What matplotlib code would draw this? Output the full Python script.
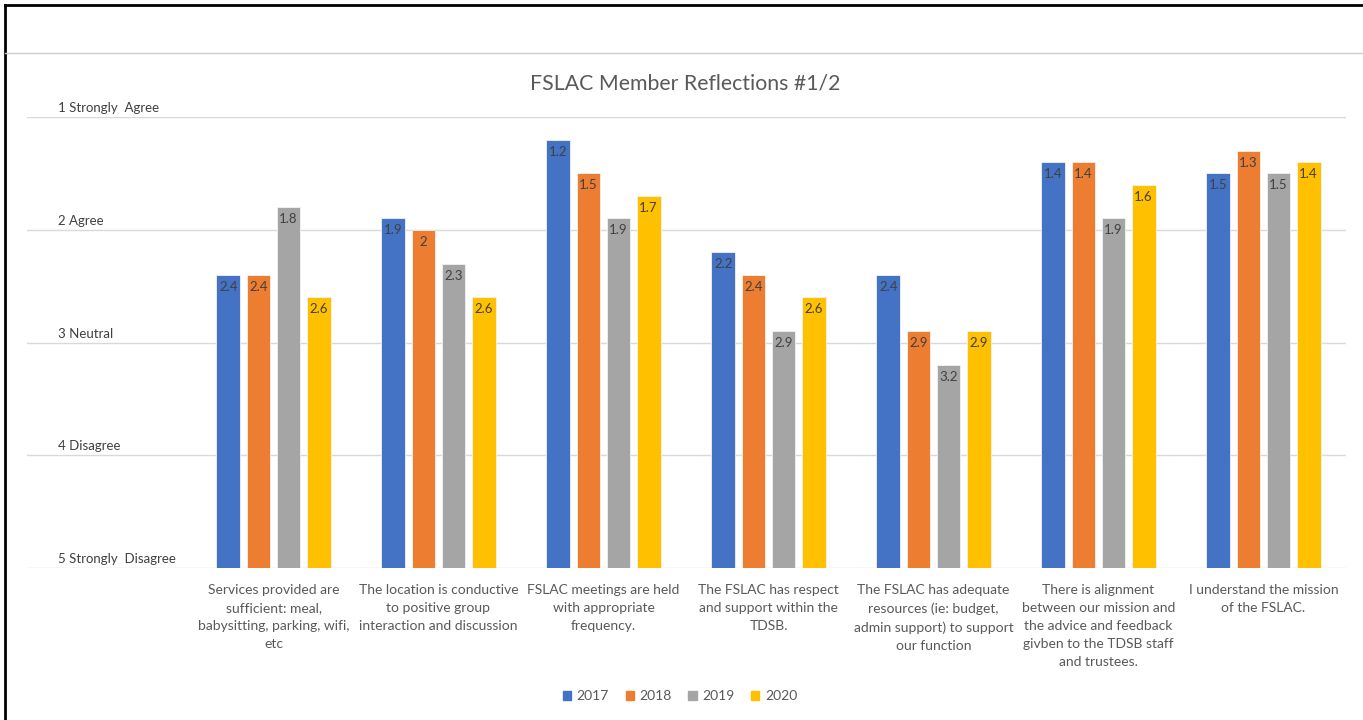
import numpy as np
import matplotlib
matplotlib.use('Agg')
import matplotlib.pyplot as plt
from matplotlib.lines import Line2D
from matplotlib.patches import Patch

plt.rcParams['font.family'] = ['Lato', 'DejaVu Sans']

# Chart data
title = 'FSLAC Member Reflections #1/2'
categories = ['Services provided are\nsufficient: meal,\nbabysitting, parking, wifi,\netc',
              'The location is conductive\nto positive group\ninteraction and discussion',
              'FSLAC meetings are held\nwith appropriate\nfrequency.',
              'The FSLAC has respect\nand support within the\nTDSB.',
              'The FSLAC has adequate\nresources (ie: budget,\nadmin support) to support\nour function',
              'There is alignment\nbetween our mission and\nthe advice and feedback\ngivben to the TDSB staff\nand trustees.',
              'I understand the mission\nof the FSLAC.']
years = ['2017', '2018', '2019', '2020']
v2017 = [2.4, 1.9, 1.2, 2.2, 2.4, 1.4, 1.5]
v2018 = [2.4, 2, 1.5, 2.4, 2.9, 1.4, 1.3]
v2019 = [1.8, 2.3, 1.9, 2.9, 3.2, 1.9, 1.5]
v2020 = [2.6, 2.6, 1.7, 2.6, 2.9, 1.6, 1.4]
scale_ticks = [1, 2, 3, 4, 5]
scale_labels = ['1 Strongly  Agree', '2 Agree', '3 Neutral', '4 Disagree', '5 Strongly  Disagree']

colors = ['#4472C4', '#ED7D31', '#A5A5A5', '#FFC000']
txt = '#595959'

W, H = 1363, 720
fig = plt.figure(figsize=(W/100, H/100), dpi=100)
ax = fig.add_axes([27/W, (H-568)/H, (1346-27)/W, (568-117)/H])

x = np.arange(len(categories))
step = 0.182
width = 0.145
series = [v2017, v2018, v2019, v2020]
for k, vals in enumerate(series):
    pos = x + (k - 1.5)*step
    vals = np.array(vals, dtype=float)
    ax.bar(pos, vals - 5, bottom=5, width=width, color=colors[k],
           edgecolor='#f2f2f2', linewidth=0.6, zorder=3)
    for px, v in zip(pos, vals):
        ax.annotate('%g' % v, xy=(px, v), xytext=(0, -12), textcoords='offset pixels',
                    ha='center', va='center', fontsize=9.5, color='#404040', zorder=4)

ax.set_ylim(5, 1)
ax.set_xlim(-0.5 - (191-27)/165, len(categories) - 0.5)
for t in scale_ticks:
    ax.axhline(t, color='#d9d9d9', linewidth=1, zorder=1)
for t, lab in zip(scale_ticks, scale_labels):
    ax.annotate(lab, xy=((58-27)/(1346-27), t), xycoords=('axes fraction', 'data'),
                xytext=(0, 3), textcoords='offset pixels', ha='left', va='bottom',
                fontsize=9.5, color='#404040')

for i, c in enumerate(categories):
    ax.annotate(c, xy=(i, 0), xycoords=('data', 'axes fraction'), xytext=(0, -16),
                textcoords='offset pixels', ha='center', va='top', fontsize=10,
                color=txt, linespacing=1.6)

ax.set_xticks([])
ax.set_yticks([])
for s in ax.spines.values():
    s.set_visible(False)

fig.text(685/W, (H-83)/H, title, ha='center', va='center', fontsize=15.3, color=txt)

handles = [Patch(color=c) for c in colors]
fig.legend(handles, years, loc='center', bbox_to_anchor=(680/W, (H-696)/H), ncol=4,
           frameon=False, handlelength=0.6, handleheight=0.6, handletextpad=0.4,
           columnspacing=1.2, prop={'size': 10}, labelcolor=txt)

# frame of the screenshot
fig.add_artist(Line2D([5/W, 1], [(H-5)/H, (H-5)/H], color='black', linewidth=2))
fig.add_artist(Line2D([5/W, 5/W], [0, (H-5)/H], color='black', linewidth=2))
fig.add_artist(Line2D([5/W, 1], [(H-53)/H, (H-53)/H], color='#cccccc', linewidth=1))

fig.savefig('out.png', dpi=100)
